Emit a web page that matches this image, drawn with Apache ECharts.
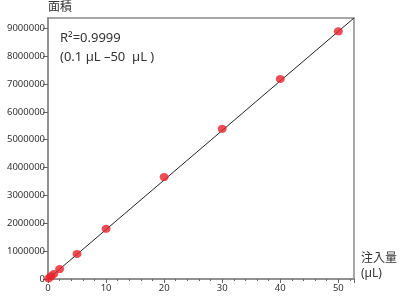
<!DOCTYPE html>
<html>
<head>
<meta charset="utf-8">
<script src="https://cdn.jsdelivr.net/npm/echarts@6/dist/echarts.min.js"></script>
<style>
html,body{margin:0;padding:0;background:#fff;}
#ChartMain{width:400px;height:299px;}
</style>
</head>
<body>
<div id="ChartMain"></div>
<script>
// 注入量 (µL) と 面積
var volumes = [0.1, 0.5, 1, 2, 5, 10, 20, 30, 40, 50];
var areas = [20000, 95000, 180000, 355000, 900000, 1800000, 3660000, 5390000, 7180000, 8890000];
// 近似直線の両端
var fitX = [0.1, 52.7];
var fitY = [15000, 9370000];
var xTicks = [0, 10, 20, 30, 40, 50];
var yTicks = [0, 1000000, 2000000, 3000000, 4000000, 5000000, 6000000, 7000000, 8000000, 9000000];

var font = '"Noto Sans", "Noto Sans CJK JP", sans-serif';

function GenerateChart() {
    var ImgChart = echarts.init(document.getElementById('ChartMain'));
    var pts = volumes.map(function (v, i) { return [v, areas[i]]; });
    var line = fitX.map(function (v, i) { return [v, fitY[i]]; });
    var option = {
        animation: false,
        grid: {
            left: 48, right: 46, top: 18, bottom: 20,
            show: true, borderColor: '#8a8a8a', borderWidth: 1.5
        },
        xAxis: {
            type: 'value',
            min: 0, max: 52.7, interval: 10,
            name: '注入量\n(µL)',
            nameLocation: 'end',
            nameGap: 7,
            nameTextStyle: {
                fontFamily: font, fontSize: 12, color: '#333',
                align: 'left', verticalAlign: 'bottom', lineHeight: 15,
                padding: [0, 0, -2, 0]
            },
            axisLine: {lineStyle: {color: '#8a8a8a', width: 1.5}},
            axisTick: {show: true, length: 4, lineStyle: {color: '#666'}},
            minorTick: {show: true, splitNumber: 5, length: 2, lineStyle: {color: '#666'}},
            splitLine: {show: false},
            axisLabel: {
                fontFamily: font, fontSize: 9.5, color: '#333', margin: 5,
                customValues: xTicks
            }
        },
        yAxis: {
            type: 'value',
            min: 0, max: 9370000, interval: 1000000,
            name: '面積',
            nameLocation: 'end',
            nameGap: 4,
            nameTextStyle: {fontFamily: font, fontSize: 12, color: '#333', align: 'left'},
            axisLine: {lineStyle: {color: '#8a8a8a', width: 1.5}},
            axisTick: {show: true, length: 5, lineStyle: {color: '#666'}, customValues: yTicks},
            splitLine: {show: false},
            axisLabel: {
                fontFamily: font, fontSize: 9.5, color: '#333', margin: 3,
                customValues: yTicks,
                formatter: function (v) { return String(v); }
            }
        },
        graphic: [
            {
                type: 'text', left: 60, top: 29,
                style: {
                    text: 'R²=0.9999\n(0.1 µL –50  µL )',
                    font: '13px ' + font, fill: '#333', lineHeight: 19
                }
            }
        ],
        series: [
            {
                type: 'line', data: line, symbol: 'none',
                lineStyle: {color: '#222', width: 1}, z: 2
            },
            {
                type: 'scatter', data: pts, symbolSize: [9, 8],
                itemStyle: {color: '#e8202a'}, z: 3
            }
        ]
    };
    ImgChart.setOption(option);
}
GenerateChart();
</script>
</body>
</html>
